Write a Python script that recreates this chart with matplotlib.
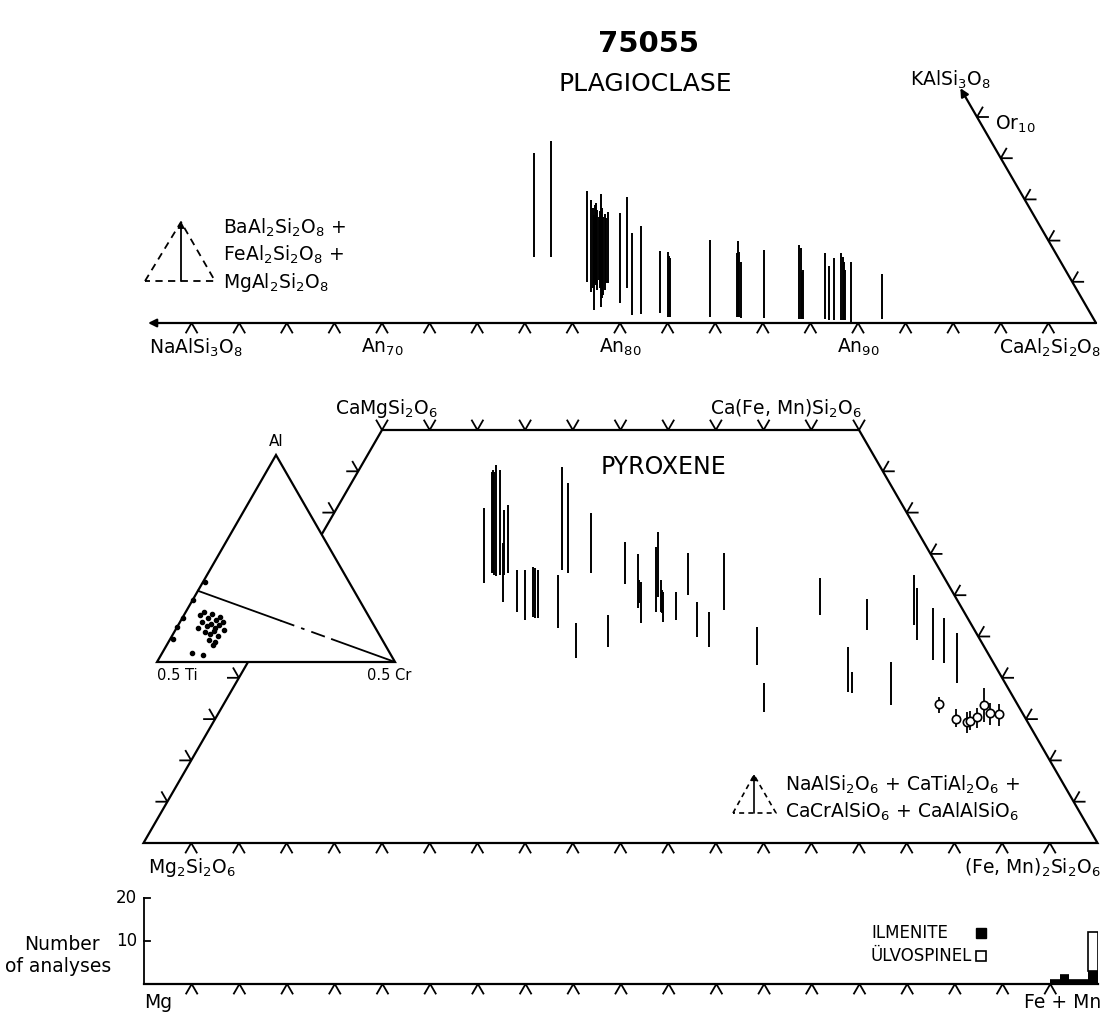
import numpy as np
import matplotlib
matplotlib.use("Agg")
import matplotlib.pyplot as plt
from matplotlib.patches import Polygon, FancyArrowPatch

# ---------------- data ----------------
# Plagioclase: An position of each analysis and the extent of its bar (Or-scale units)
plag_an = [76.4, 77.1, 78.6, 78.8, 78.85, 78.9, 78.95, 79.0, 79.05, 79.1, 79.15, 79.2,
           79.25, 79.3, 79.35, 79.4, 79.5, 80.0, 80.3, 80.5, 80.9, 81.7, 82.0, 82.05,
           82.1, 83.8, 84.9, 84.95, 85.0, 85.1, 86.05, 87.5, 87.6, 87.65, 87.7, 88.6,
           88.8, 89.0, 89.3, 89.35, 89.4, 89.45, 89.7, 91.0]
plag_lo = [3.20, 3.20, 1.99, 1.50, 1.70, 0.63, 1.94, 1.84, 1.60, 2.09, 1.70, 0.78,
           1.20, 1.36, 1.60, 1.94, 1.94, 0.97, 1.70, 0.39, 0.44, 0.49, 0.29, 0.29,
           0.29, 0.29, 0.29, 0.29, 0.29, 0.24, 0.24, 0.19, 0.19, 0.19, 0.19, 0.19,
           0.15, 0.15, 0.15, 0.15, 0.15, 0.15, 0.05, 0.19]
plag_hi = [8.25, 8.83, 6.41, 5.97, 5.60, 5.24, 5.73, 5.83, 5.50, 5.15, 5.45, 6.26,
           5.60, 5.15, 5.30, 5.10, 5.39, 5.34, 6.12, 4.37, 4.71, 3.50, 3.45, 3.25,
           3.16, 4.03, 3.40, 3.98, 3.45, 2.96, 3.54, 3.79, 3.64, 2.48, 2.57, 3.40,
           2.77, 3.16, 3.40, 3.20, 2.96, 2.57, 2.96, 2.38]
plag_ticks = list(range(62, 100, 2))
or_ticks = [2, 4, 6, 8, 10]

# Pyroxene: position along En-Fs and Wo range of each bar
pyx_x = [35.7, 36.5, 36.6, 36.7, 36.95, 37.4, 37.7, 37.8, 38.2, 39.2, 40.0, 40.8,
         41.0, 41.3, 43.5, 43.9, 44.5, 45.3, 46.9, 48.7, 50.5, 51.8, 51.9, 52.1,
         53.7, 53.9, 54.2, 54.4, 54.5, 55.8, 57.1, 58.0, 59.3, 60.9, 64.3, 65.0,
         70.9, 73.8, 74.3, 75.8, 78.4, 80.8, 81.1, 82.8, 83.9, 85.3]
pyx_lo = [31.5, 32.7, 32.7, 32.4, 32.3, 32.4, 29.2, 32.4, 32.7, 28.0, 27.0, 27.4,
          27.2, 27.2, 26.0, 33.1, 32.7, 22.4, 32.7, 23.7, 31.4, 28.5, 29.1, 26.6,
          28.0, 29.8, 28.0, 27.8, 26.8, 27.0, 30.0, 24.9, 23.7, 28.2, 21.5, 15.9,
          27.6, 18.3, 18.2, 25.8, 16.7, 26.4, 24.6, 22.2, 21.8, 19.4]
pyx_hi = [40.6, 44.9, 45.2, 44.9, 45.8, 45.2, 36.3, 40.3, 40.9, 33.1, 33.1, 33.4,
          33.3, 33.1, 32.4, 45.5, 43.6, 26.6, 40.0, 27.6, 36.4, 35.0, 31.8, 31.6,
          35.8, 37.7, 31.8, 30.6, 30.4, 30.4, 35.1, 29.2, 28.0, 35.1, 26.2, 19.4,
          32.1, 23.7, 20.7, 29.5, 21.9, 32.4, 30.9, 28.5, 27.2, 25.4]
# Open-circle analyses with their ranges
ring_x = [83.4, 85.2, 86.3, 86.6, 87.4, 88.1, 88.7, 89.7]
ring_wo = [16.8, 15.0, 14.6, 14.8, 15.3, 16.7, 15.7, 15.6]
ring_lo = [15.7, 14.0, 13.3, 13.7, 13.9, 14.6, 14.3, 14.2]
ring_hi = [17.7, 16.2, 15.9, 16.0, 16.3, 18.8, 16.9, 16.8]
pyx_ticks = list(range(5, 100, 5))
wo_ticks = list(range(5, 50, 5))

# Al - 0.5Ti - 0.5Cr inset (atomic fractions of Al and Cr)
inset_al = [0.388, 0.301, 0.213, 0.170, 0.112, 0.228, 0.243, 0.213, 0.233, 0.204,
            0.218, 0.194, 0.175, 0.184, 0.165, 0.180, 0.194, 0.146, 0.136, 0.150,
            0.126, 0.107, 0.097, 0.165, 0.155, 0.044, 0.034, 0.082]
inset_cr = [0.008, 0.000, 0.003, 0.000, 0.011, 0.067, 0.076, 0.108, 0.115, 0.146,
            0.156, 0.092, 0.123, 0.135, 0.162, 0.171, 0.180, 0.129, 0.155, 0.164,
            0.193, 0.165, 0.196, 0.090, 0.204, 0.125, 0.176, 0.194]
inset_line_al = [0.344, 0.0]
inset_line_cr = [0.0, 1.0]

# Opaque oxides: Fe+Mn histogram
bin_left = [95, 96, 97, 98, 99]
ilmenite_n = [1, 2, 1, 1, 3]
ulvospinel_n = [0, 0, 0, 0, 9]
hist_ticks = list(range(5, 100, 5))

# ---------------- figure ----------------
W, H = 1103, 1015
fig = plt.figure(figsize=(W / 100, H / 100), dpi=100)
LW = 1.6
FS = 13.5


def panel(x0, x1, y0, y1, xlim, ylim):
    """Axes placed by a pixel box measured from the top-left corner."""
    ax = fig.add_axes([x0 / W, 1 - y1 / H, (x1 - x0) / W, (y1 - y0) / H])
    ax.set_xlim(*xlim)
    ax.set_ylim(*ylim)
    ax.axis("off")
    return ax


def chevrons(ax, xs, ys, angles, sx, sy, length=11, lw=1.3):
    a0, a1 = np.radians(angles)
    for x, y in zip(xs, ys):
        px = [x + length * np.cos(a0) / sx, x, x + length * np.cos(a1) / sx]
        py = [y + length * np.sin(a0) / sy, y, y + length * np.sin(a1) / sy]
        ax.plot(px, py, color="k", lw=lw, clip_on=False, solid_joinstyle="miter")


def arrow(ax, p0, p1, lw=LW, ms=12):
    ax.add_patch(FancyArrowPatch(p0, p1, arrowstyle="-|>", mutation_scale=ms,
                                 lw=lw, color="k", shrinkA=0, shrinkB=0,
                                 clip_on=False))


# overlay in pixel units for titles and schematic keys
ov = fig.add_axes([0, 0, 1, 1])
ov.set_xlim(0, W)
ov.set_ylim(H, 0)
ov.axis("off")

ov.text(648, 44, "75055", ha="center", va="center", fontsize=21, fontweight="bold")
ov.text(645, 84, "PLAGIOCLASE", ha="center", va="center", fontsize=18)

# ---- plagioclase ----
ax_pl = panel(144, 1096, 323 - 12 * 20.6, 323, (60, 100), (0, 12))
sxp, syp = 23.8, 20.6
arrow(ax_pl, (100, 0), (60.17, 0))
or_top = 11.4
arrow(ax_pl, (100, 0), (100 - or_top / 2, or_top))
chevrons(ax_pl, plag_ticks, [0] * len(plag_ticks), (240, 300), sxp, syp)
chevrons(ax_pl, [100 - o / 2 for o in or_ticks], or_ticks, (0, 60), sxp, syp)
ax_pl.vlines(plag_an, plag_lo, plag_hi, colors="k", lw=1.4)

for an in (70, 80, 90):
    ax_pl.text(an, -0.65, "An$_{%d}$" % an, ha="center", va="top", fontsize=FS)
ax_pl.text(60.2, -0.65, "NaAlSi$_3$O$_8$", ha="left", va="top", fontsize=FS)
ax_pl.text(100.2, -0.65, "CaAl$_2$Si$_2$O$_8$", ha="right", va="top", fontsize=FS)
ov.text(950, 80, "KAlSi$_3$O$_8$", ha="center", va="center", fontsize=FS)
ov.text(995, 124, "Or$_{10}$", ha="left", va="center", fontsize=FS)

# key triangle for the minor feldspar components
ov.plot([145, 181, 215, 145], [281, 222, 281, 281], color="k", lw=1.3,
        ls=(0, (4, 3)))
arrow(ov, (181, 281), (181, 221), lw=1.3, ms=9)
for i, s in enumerate(["BaAl$_2$Si$_2$O$_8$ +", "FeAl$_2$Si$_2$O$_8$ +",
                       "MgAl$_2$Si$_2$O$_8$"]):
    ov.text(223, 228 + 27 * i, s, ha="left", va="center", fontsize=FS)

# ---- pyroxene quadrilateral ----
ax_px = panel(143.5, 1097.5, 430, 843, (0, 100), (0, 50))
sxx, syx = 9.54, 8.26
ax_px.add_patch(Polygon([(0, 0), (100, 0), (75, 50), (25, 50)], closed=True,
                        fill=False, lw=LW, ec="k", clip_on=False))
chevrons(ax_px, pyx_ticks, [0] * len(pyx_ticks), (240, 300), sxx, syx)
top_ticks = list(range(25, 80, 5))
chevrons(ax_px, top_ticks, [50] * len(top_ticks), (60, 120), sxx, syx)
chevrons(ax_px, [w / 2 for w in wo_ticks], wo_ticks, (180, 120), sxx, syx)
chevrons(ax_px, [100 - w / 2 for w in wo_ticks], wo_ticks, (0, 60), sxx, syx)
ax_px.vlines(pyx_x, pyx_lo, pyx_hi, colors="k", lw=1.4)
ax_px.vlines(ring_x, ring_lo, ring_hi, colors="k", lw=1.3)
ax_px.plot(ring_x, ring_wo, "o", ms=6, mfc="white", mec="k", mew=1.2, ls="none")

ax_px.text(25.5, 51.2, "CaMgSi$_2$O$_6$", ha="center", va="bottom", fontsize=FS)
ax_px.text(75.3, 51.2, "Ca(Fe, Mn)Si$_2$O$_6$", ha="right", va="bottom", fontsize=FS)
ax_px.text(54.5, 45.5, "PYROXENE", ha="center", va="center", fontsize=17)
ax_px.text(0.5, -1.6, "Mg$_2$Si$_2$O$_6$", ha="left", va="top", fontsize=FS)
ax_px.text(100.3, -1.6, "(Fe, Mn)$_2$Si$_2$O$_6$", ha="right", va="top", fontsize=FS)

# key triangle for the non-quadrilateral components
ov.plot([733, 754, 776, 733], [813, 775, 813, 813], color="k", lw=1.2,
        ls=(0, (3, 2.5)))
arrow(ov, (754, 813), (754, 774), lw=1.2, ms=8)
ov.text(785, 785, "NaAlSi$_2$O$_6$ + CaTiAl$_2$O$_6$ +", ha="left", va="center",
        fontsize=FS)
ov.text(785, 812, "CaCrAlSiO$_6$ + CaAlAlSiO$_6$", ha="left", va="center",
        fontsize=FS)

# ---- Al / Ti / Cr inset ----
h3 = np.sqrt(3) / 2
ax_in = panel(157, 395, 455, 662, (0, 1), (0, h3))
ax_in.add_patch(Polygon([(0, 0), (1, 0), (0.5, h3)], closed=True, fc="white",
                        ec="k", lw=LW, clip_on=False))
lx = [c + a / 2 for a, c in zip(inset_line_al, inset_line_cr)]
ly = [a * h3 for a in inset_line_al]
t = np.array([0.0, 0.42, 0.68, 1.0])
seg_x = lx[0] + t * (lx[1] - lx[0])
seg_y = ly[0] + t * (ly[1] - ly[0])
ax_in.plot(seg_x[:2], seg_y[:2], color="k", lw=1.3)
ax_in.plot(seg_x[1:3], seg_y[1:3], color="k", lw=1.3, ls=(0, (8, 4, 2, 4)))
ax_in.plot(seg_x[2:], seg_y[2:], color="k", lw=1.3)
ix = [c + a / 2 for a, c in zip(inset_al, inset_cr)]
iy = [a * h3 for a in inset_al]
ax_in.plot(ix, iy, "o", ms=3, color="k", ls="none", clip_on=False)
ax_in.text(0.5, h3 + 0.025, "Al", ha="center", va="bottom", fontsize=11)
ax_in.text(0.0, -0.025, "0.5 Ti", ha="left", va="top", fontsize=10.5)
ax_in.text(1.07, -0.025, "0.5 Cr", ha="right", va="top", fontsize=10.5)

# ---- oxide histogram ----
syh = 4.3
ax_h = panel(144, 1098, 984 - 20 * syh, 984, (0, 100), (0, 20))
ax_h.plot([0, 100], [0, 0], color="k", lw=LW, clip_on=False)
ax_h.plot([0, 0], [0, 20], color="k", lw=1.3, clip_on=False)
for v in (10, 20):
    ax_h.plot([0, 0.65], [v, v], color="k", lw=1.3, clip_on=False)
    ax_h.text(-0.7, v, str(v), ha="right", va="center", fontsize=12)
chevrons(ax_h, hist_ticks, [0] * len(hist_ticks), (240, 300), 9.54, syh)
ax_h.bar(bin_left, ilmenite_n, width=1, align="edge", color="k", lw=0)
ax_h.bar(bin_left, ulvospinel_n, bottom=ilmenite_n, width=1, align="edge",
         fc="white", ec="k", lw=1.2)
ax_h.text(0, -4.2, "Mg", ha="left", va="center", fontsize=FS)
ax_h.text(100.3, -4.2, "Fe + Mn", ha="right", va="center", fontsize=FS)
ov.text(62, 945, "Number", ha="center", va="center", fontsize=FS)
ov.text(58, 966, "of analyses", ha="center", va="center", fontsize=FS)
ov.text(871, 933, "ILMENITE", ha="left", va="center", fontsize=12)
ov.text(871, 956, "ÜLVOSPINEL", ha="left", va="center", fontsize=12)
ov.plot([981], [933], "s", ms=7, color="k")
ov.plot([981], [956], "s", ms=7, mfc="white", mec="k", mew=1.2)

fig.savefig("out.png", dpi=100, facecolor="white")
